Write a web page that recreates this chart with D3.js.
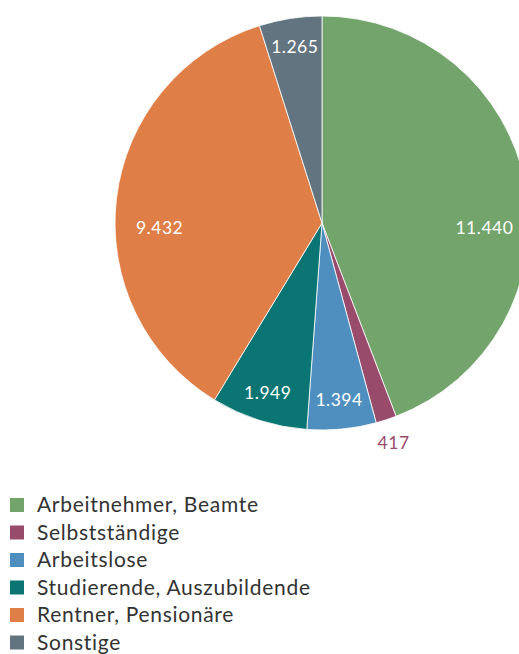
<!DOCTYPE html>
<html>
<head>
<meta charset="utf-8">
<script src="https://cdn.jsdelivr.net/npm/d3@7"></script>
<style>
  html, body { margin: 0; padding: 0; background: #fff; }
  svg { display: block; font-family: Lato, "Open Sans", sans-serif; }
</style>
</head>
<body>
<svg id="chart" width="519" height="654"></svg>
<script>
// Haushalte nach sozialer Stellung (Tsd.)
const categories = [
  "Arbeitnehmer, Beamte",
  "Selbstständige",
  "Arbeitslose",
  "Studierende, Auszubildende",
  "Rentner, Pensionäre",
  "Sonstige"
];
const values = [11440, 417, 1394, 1949, 9432, 1265];
const colors = ["#72a46c", "#994b6b", "#4f8fbf", "#0b7574", "#e07e47", "#617480"];

const svg = d3.select("#chart");
const cx = 322, cy = 223, R = 207;

const fmt = d3.formatLocale({ decimal: ",", thousands: ".", grouping: [3] }).format(",d");

const pie = d3.pie().sort(null).value(d => d.value);
const slices = pie(categories.map((c, i) => ({ name: c, value: values[i], color: colors[i] })));
const arc = d3.arc().innerRadius(0).outerRadius(R);

const g = svg.append("g").attr("transform", `translate(${cx},${cy})`);

g.selectAll("path.slice")
  .data(slices)
  .join("path")
  .attr("class", "slice")
  .attr("d", arc)
  .attr("fill", d => d.data.color)
  .attr("stroke", "#fff")
  .attr("stroke-width", 0.8);

// Label placement: large slices get their label on the horizontal axis,
// small slices along the mid-angle near the rim, tiny ones outside.
const total = d3.sum(values);
function labelPos(d) {
  const share = d.data.value / total;
  let a = (d.startAngle + d.endAngle) / 2;
  let r = 0.86 * R;
  if (share > 0.25) {
    r = 0.785 * R;
    const targets = [Math.PI / 2, 3 * Math.PI / 2];
    for (const t of targets) if (t > d.startAngle && t < d.endAngle) a = t - 0.03 * Math.sign(t - Math.PI);
  } else if (share < 0.03) {
    r = 1.115 * R;
  }
  return [r * Math.sin(a), -r * Math.cos(a), share < 0.03];
}

g.selectAll("text.lbl")
  .data(slices)
  .join("text")
  .attr("class", "lbl")
  .each(function(d) {
    const [x, y, outside] = labelPos(d);
    d3.select(this)
      .attr("x", x).attr("y", y)
      .attr("dy", "0.35em")
      .attr("text-anchor", "middle")
      .attr("font-size", 17.5)
      .attr("letter-spacing", 0.5)
      .attr("fill", outside ? d.data.color : "#fff")
      .text(fmt(d.data.value));
  });

// Legend
const legend = svg.append("g").attr("transform", "translate(10,505)");
const row = legend.selectAll("g")
  .data(categories)
  .join("g")
  .attr("transform", (d, i) => `translate(0,${i * 27.5})`);
row.append("rect")
  .attr("x", 0).attr("y", -7).attr("width", 14).attr("height", 14)
  .attr("fill", (d, i) => colors[i]);
row.append("text")
  .attr("x", 27).attr("y", 0).attr("dy", "0.35em")
  .attr("font-size", 21)
  .attr("letter-spacing", 0.7)
  .attr("fill", "#333")
  .text(d => d);
</script>
</body>
</html>
